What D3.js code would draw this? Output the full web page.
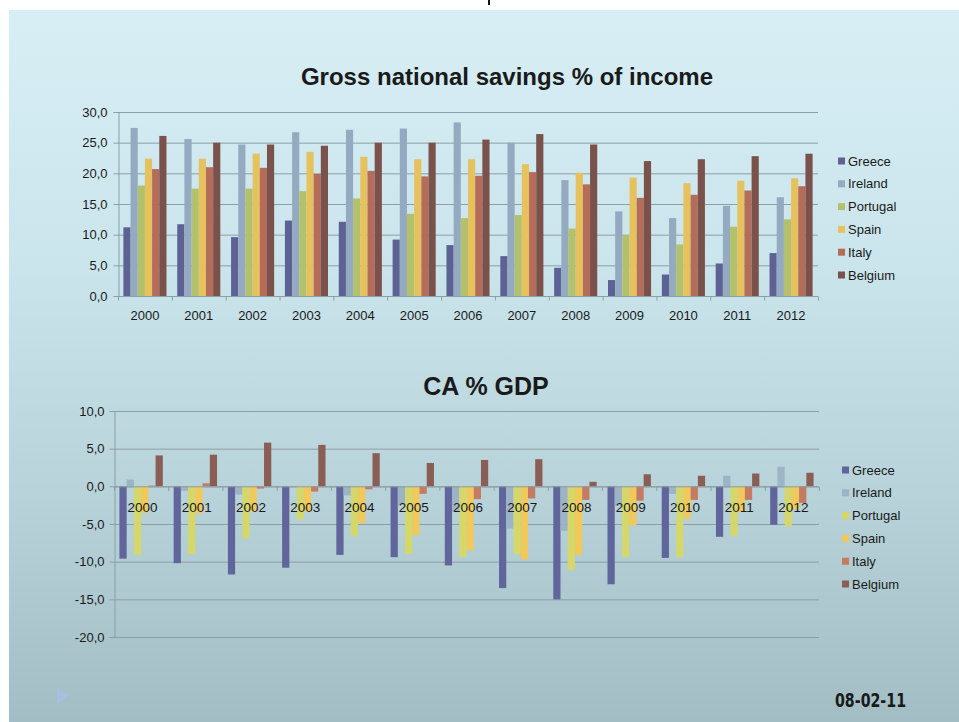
<!DOCTYPE html>
<html>
<head>
<meta charset="utf-8">
<script src="https://cdn.jsdelivr.net/npm/d3@7"></script>
<style>
  body { margin: 0; background: #fff; }
  svg { display: block; }
  text { font-family: "Liberation Sans", Arial, sans-serif; fill: #1a1a1a; }
</style>
</head>
<body>
<script>
// ---- Data ----
const years = ["2000","2001","2002","2003","2004","2005","2006","2007","2008","2009","2010","2011","2012"];
const countries = ["Greece","Ireland","Portugal","Spain","Italy","Belgium"];

// Gross national savings, % of income
const savingsGreece   = [11.2, 11.7,  9.6, 12.3, 12.1,  9.2,  8.3,  6.5,  4.6,  2.6,  3.5,  5.3,  7.0];
const savingsIreland  = [27.4, 25.6, 24.7, 26.7, 27.1, 27.3, 28.3, 25.0, 18.9, 13.8, 12.7, 14.7, 16.1];
const savingsPortugal = [18.0, 17.5, 17.5, 17.1, 15.9, 13.4, 12.7, 13.2, 11.0,  9.9,  8.4, 11.3, 12.5];
const savingsSpain    = [22.4, 22.4, 23.2, 23.5, 22.7, 22.3, 22.3, 21.5, 20.1, 19.3, 18.4, 18.8, 19.2];
const savingsItaly    = [20.7, 21.0, 20.9, 19.9, 20.4, 19.5, 19.6, 20.2, 18.2, 16.0, 16.5, 17.2, 17.9];
const savingsBelgium  = [26.1, 25.0, 24.7, 24.5, 25.0, 25.0, 25.5, 26.4, 24.7, 22.0, 22.3, 22.8, 23.2];

// Current account balance, % of GDP
const caGreece   = [ -9.6, -10.2, -11.7, -10.8,  -9.1,  -9.4, -10.5, -13.5, -15.0, -13.0,  -9.5,  -6.7,  -5.1];
const caIreland  = [  0.9,  -0.6,  -1.1,  -0.1,  -1.2,  -2.5,  -3.3,  -5.6,  -5.9,  -2.6,  -1.0,   1.4,   2.6];
const caPortugal = [ -9.1,  -9.0,  -6.9,  -4.4,  -6.6,  -9.0,  -9.4,  -9.0, -11.1,  -9.4,  -9.4,  -6.6,  -5.3];
const caSpain    = [ -3.5,  -3.6,  -3.3,  -3.3,  -4.9,  -6.5,  -8.5,  -9.7,  -9.1,  -5.2,  -4.3,  -3.4,  -3.0];
const caItaly    = [  0.1,   0.4,  -0.3,  -0.7,  -0.4,  -1.0,  -1.7,  -1.6,  -1.8,  -1.9,  -1.8,  -1.8,  -2.2];
const caBelgium  = [  4.1,   4.2,   5.8,   5.5,   4.4,   3.1,   3.5,   3.6,   0.6,   1.6,   1.4,   1.7,   1.8];

const yTicksSavings = [0, 5, 10, 15, 20, 25, 30];
const yTicksCA = [-20, -15, -10, -5, 0, 5, 10];

const savingsSeries = [savingsGreece, savingsIreland, savingsPortugal, savingsSpain, savingsItaly, savingsBelgium];
const caSeries = [caGreece, caIreland, caPortugal, caSpain, caItaly, caBelgium];

// ---- Styling ----
const W = 959, H = 722;
const topColors = ["#5d6194", "#94aac0", "#b3c16d", "#e6c25f", "#b36d5a", "#7b524b"];
const bottomColors = ["#60659b", "#9db3c6", "#d5d76a", "#f1c95a", "#c57a62", "#8a5d55"];
const gridColor = "#8d9ea4";
// one decimal, comma separator, plain hyphen for negatives
const fmt = d => (d < 0 ? "-" : "") + Math.abs(d).toFixed(1).replace(".", ",");

const svg = d3.select("body").append("svg").attr("width", W).attr("height", H);

// Slide background
const defs = svg.append("defs");
const grad = defs.append("linearGradient").attr("id", "slideBg")
  .attr("x1", 0).attr("y1", 0).attr("x2", 0).attr("y2", 1);
[["0%", "#d7eef4"], ["35%", "#cbe5ec"], ["70%", "#b6d1d7"], ["100%", "#a2bec4"]]
  .forEach(([o, c]) => grad.append("stop").attr("offset", o).attr("stop-color", c));

svg.append("rect").attr("width", W).attr("height", H).attr("fill", "#fff");
svg.append("rect").attr("x", 9).attr("y", 10).attr("width", W - 9).attr("height", H - 10)
  .attr("fill", "url(#slideBg)");
svg.append("rect").attr("x", 488).attr("y", 0).attr("width", 2).attr("height", 5).attr("fill", "#111");

function drawChart(cfg) {
  const g = svg.append("g");
  const x = d3.scaleBand().domain(years).range([cfg.x0, cfg.x1]).paddingInner(0.2).paddingOuter(0.1);
  const xs = d3.scaleBand().domain(countries).range([0, x.bandwidth()]);
  const y = d3.scaleLinear().domain(cfg.domain).range([cfg.yBottom, cfg.yTop]);

  // gridlines
  g.append("g").selectAll("line").data(cfg.ticks).join("line")
    .attr("x1", cfg.x0).attr("x2", cfg.x1)
    .attr("y1", d => y(d) + 0.5).attr("y2", d => y(d) + 0.5)
    .attr("stroke", gridColor).attr("stroke-width", 1);

  // y axis
  const ya = g.append("g").attr("transform", `translate(${cfg.x0 + 0.5},0)`)
    .call(d3.axisLeft(y).tickValues(cfg.ticks).tickFormat(fmt).tickSize(5).tickPadding(cfg.yPad));
  ya.select(".domain").attr("stroke", gridColor);
  ya.selectAll(".tick line").attr("stroke", gridColor);
  ya.selectAll("text").attr("font-size", 13).attr("fill", "#1a1a1a")
    .style("font-family", '"Liberation Sans", Arial, sans-serif');

  // bars
  const groups = g.append("g").selectAll("g").data(years).join("g")
    .attr("transform", d => `translate(${x(d)},0)`);
  groups.selectAll("rect")
    .data((yr, i) => cfg.series.map((s, k) => ({ country: countries[k], k, v: s[i] })))
    .join("rect")
    .attr("x", d => xs(d.country))
    .attr("width", xs.bandwidth())
    .attr("y", d => Math.min(y(d.v), y(0)))
    .attr("height", d => Math.abs(y(d.v) - y(0)))
    .attr("fill", d => cfg.colors[d.k]);

  // category axis at zero
  const zeroY = y(0) + 0.5;
  g.append("line").attr("x1", cfg.x0).attr("x2", cfg.x1).attr("y1", zeroY).attr("y2", zeroY)
    .attr("stroke", gridColor);
  const step = x.step();
  const bounds = d3.range(years.length + 1).map(i => cfg.x0 + i * step);
  g.append("g").selectAll("line").data(bounds).join("line")
    .attr("x1", d => d + 0.5).attr("x2", d => d + 0.5)
    .attr("y1", zeroY).attr("y2", zeroY + 4)
    .attr("stroke", gridColor);
  g.append("g").selectAll("text").data(years).join("text")
    .attr("x", d => cfg.x0 + years.indexOf(d) * step + step / 2 + cfg.labelDx)
    .attr("y", y(0) + cfg.labelDy)
    .attr("text-anchor", "middle").attr("font-size", cfg.labelSize)
    .text(d => d);

  // title
  svg.append("text").attr("x", cfg.titleX).attr("y", cfg.titleY)
    .attr("text-anchor", "middle").attr("font-size", cfg.titleSize).attr("font-weight", "bold")
    .text(cfg.title);

  // legend
  const lg = svg.append("g");
  countries.forEach((c, k) => {
    const ly = cfg.legendY + k * 22.8;
    lg.append("rect").attr("x", cfg.legendX).attr("y", ly - 3.5).attr("width", 7).attr("height", 7)
      .attr("fill", cfg.colors[k]);
    lg.append("text").attr("x", cfg.legendX + 10).attr("y", ly).attr("dy", "0.35em")
      .attr("font-size", 13).text(c);
  });
}

drawChart({
  series: savingsSeries, colors: topColors,
  x0: 118, x1: 818, yTop: 112, yBottom: 296, domain: [0, 30], ticks: yTicksSavings, yPad: 6,
  labelDx: 0, labelDy: 24, labelSize: 13,
  title: "Gross national savings % of income", titleX: 507, titleY: 85, titleSize: 24,
  legendX: 838, legendY: 161
});

drawChart({
  series: caSeries, colors: bottomColors,
  x0: 114, x1: 819, yTop: 411, yBottom: 637, domain: [-20, 10], ticks: yTicksCA, yPad: 5,
  labelDx: 1.5, labelDy: 26, labelSize: 13.5,
  title: "CA % GDP", titleX: 486, titleY: 395, titleSize: 25,
  legendX: 842, legendY: 470
});

// footer: slide marker and date
svg.append("path").attr("d", "M57,687 L69,695.5 L57,704 Z").attr("fill", "#a8bfe0");
svg.append("text").attr("x", 835).attr("y", 707)
  .attr("font-size", 20).attr("font-weight", "bold")
  .attr("textLength", 71).attr("lengthAdjust", "spacingAndGlyphs")
  .style("font-family", '"Liberation Sans Narrow", "DejaVu Sans Condensed", "Liberation Sans", Arial, sans-serif')
  .attr("fill", "#222")
  .text("08-02-11");
</script>
</body>
</html>
